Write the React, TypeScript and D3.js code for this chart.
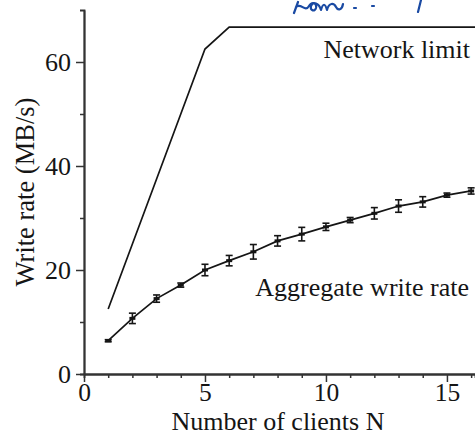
import { useRef, useEffect } from 'react';
import * as d3 from 'd3';

const WIDTH = 475;
const HEIGHT = 436;
const FONT = '"Liberation Serif", "Times New Roman", serif';

// Aggregate write rate (MB/s) with error bars, by number of clients
const clients = [1, 2, 3, 4, 5, 6, 7, 8, 9, 10, 11, 12, 13, 14, 15, 16];
const aggregateRate = [6.4, 10.7, 14.5, 17.1, 20.0, 21.8, 23.5, 25.6, 26.9, 28.3, 29.6, 30.9, 32.3, 33.1, 34.4, 35.2];
const aggregateErr = [0.2, 1.0, 0.7, 0.4, 1.1, 1.0, 1.4, 1.0, 1.3, 0.7, 0.5, 1.1, 1.2, 1.0, 0.4, 0.6];

// Network limit line
const limitClients = [1, 2, 3, 4, 5, 6, 7, 8, 9, 10, 11, 12, 13, 14, 15, 16, 17];
const limitRate = [12.5, 25, 37.5, 50, 62.5, 66.7, 66.7, 66.7, 66.7, 66.7, 66.7, 66.7, 66.7, 66.7, 66.7, 66.7, 66.7];

const xMajor = [0, 5, 10, 15];
const xMinor = [1, 2, 3, 4, 6, 7, 8, 9, 11, 12, 13, 14, 16];
const yMajor = [0, 20, 40, 60];
const yMinor = [10, 30, 50];

export default function App() {
  const svgRef = useRef<SVGSVGElement | null>(null);

  useEffect(() => {
    const svg = d3.select(svgRef.current);
    svg.selectAll('*').remove();

    const x = d3.scaleLinear().domain([0, 16.16]).range([84, 475]);
    const y = d3.scaleLinear().domain([0, 70]).range([374, 10]);
    const ink = '#151515';

    svg.append('defs').append('clipPath').attr('id', 'plot-clip')
      .append('rect').attr('x', 84).attr('y', 0).attr('width', 391).attr('height', 374);

    const styleAxis = (g: any) => {
      g.select('.domain').attr('stroke', '#333').attr('stroke-width', 1.8);
      g.selectAll('.tick line').attr('stroke', '#333').attr('stroke-width', 1.5);
      g.selectAll('.tick text').attr('fill', ink).attr('font-family', FONT).attr('font-size', 26);
    };

    // minor ticks
    svg.append('g').attr('transform', `translate(0,${y(0)})`)
      .call(d3.axisBottom(x).tickValues(xMinor).tickSize(4).tickFormat(() => ''))
      .call(styleAxis);
    svg.append('g').attr('transform', `translate(${x(0)},0)`)
      .call(d3.axisLeft(y).tickValues(yMinor).tickSize(4).tickFormat(() => ''))
      .call(styleAxis);

    // major ticks
    svg.append('g').attr('transform', `translate(0,${y(0)})`)
      .call(d3.axisBottom(x).tickValues(xMajor).tickSize(8).tickSizeOuter(0).tickPadding(1).tickFormat(d3.format('d')))
      .call(styleAxis)
      .call((g: any) => g.selectAll('.tick text').attr('font-size', 25.5));
    svg.append('g').attr('transform', `translate(${x(0)},0)`)
      .call(d3.axisLeft(y).tickValues(yMajor).tickSize(8).tickSizeOuter(0).tickPadding(5).tickFormat(d3.format('d')))
      .call(styleAxis);

    const plot = svg.append('g').attr('clip-path', 'url(#plot-clip)');

    // network limit
    const limitLine = d3.line<number>()
      .x((_, i) => x(limitClients[i]))
      .y(d => y(d));
    plot.append('path').datum(limitRate)
      .attr('fill', 'none').attr('stroke', ink).attr('stroke-width', 1.7)
      .attr('d', limitLine);

    // aggregate write rate
    const aggLine = d3.line<number>()
      .x((_, i) => x(clients[i]))
      .y(d => y(d));
    plot.append('path').datum(aggregateRate)
      .attr('fill', 'none').attr('stroke', ink).attr('stroke-width', 1.7)
      .attr('d', aggLine);

    const pts = plot.append('g').selectAll('g').data(clients).enter().append('g');
    pts.append('line')
      .attr('x1', d => x(d)).attr('x2', d => x(d))
      .attr('y1', (_, i) => y(aggregateRate[i] - aggregateErr[i]))
      .attr('y2', (_, i) => y(aggregateRate[i] + aggregateErr[i]))
      .attr('stroke', ink).attr('stroke-width', 1.6);
    [-1, 1].forEach(s => {
      pts.append('line')
        .attr('x1', d => x(d) - 3.5).attr('x2', d => x(d) + 3.5)
        .attr('y1', (_, i) => y(aggregateRate[i] + s * aggregateErr[i]))
        .attr('y2', (_, i) => y(aggregateRate[i] + s * aggregateErr[i]))
        .attr('stroke', ink).attr('stroke-width', 1.6);
    });
    pts.append('rect')
      .attr('x', d => x(d) - 3).attr('y', (_, i) => y(aggregateRate[i]) - 1.5)
      .attr('width', 6).attr('height', 3).attr('fill', ink);

    // labels
    svg.append('text')
      .attr('x', 470).attr('y', y(66.7) + 31)
      .attr('text-anchor', 'end').attr('font-family', FONT).attr('font-size', 26).attr('fill', ink)
      .text('Network limit');
    svg.append('text')
      .attr('x', 469).attr('y', 296)
      .attr('text-anchor', 'end').attr('font-family', FONT).attr('font-size', 26).attr('fill', ink)
      .text('Aggregate write rate');

    svg.append('text')
      .attr('x', 278).attr('y', 430)
      .attr('text-anchor', 'middle').attr('font-family', FONT).attr('font-size', 26).attr('fill', ink)
      .text('Number of clients N');
    svg.append('text')
      .attr('transform', 'translate(34,192) rotate(-90)')
      .attr('text-anchor', 'middle').attr('font-family', FONT).attr('font-size', 26.5).attr('fill', ink)
      .text('Write rate (MB/s)');

    // handwritten note at the top (cropped in the source)
    svg.append('path')
      .attr('d', 'M294,13 L298,2 M296,7 C301,2 305,13 309,6 C312,1 317,3 316,8 C315,12 310,11 311,6 C313,1 319,3 321,10 C323,3 325,3 327,10 C329,2 334,3 336,7 C338,11 342,10 343,4 M354,8 L356,8 M372,6 L374,6 M421,0 L418,12')
      .attr('fill', 'none').attr('stroke', '#1a4aa3').attr('stroke-width', 2.2)
      .attr('stroke-linecap', 'round').attr('stroke-linejoin', 'round');
  }, []);

  return (
    <svg ref={svgRef} width={WIDTH} height={HEIGHT}
      style={{ position: 'absolute', left: 0, top: 0, background: '#fff' }} />
  );
}
